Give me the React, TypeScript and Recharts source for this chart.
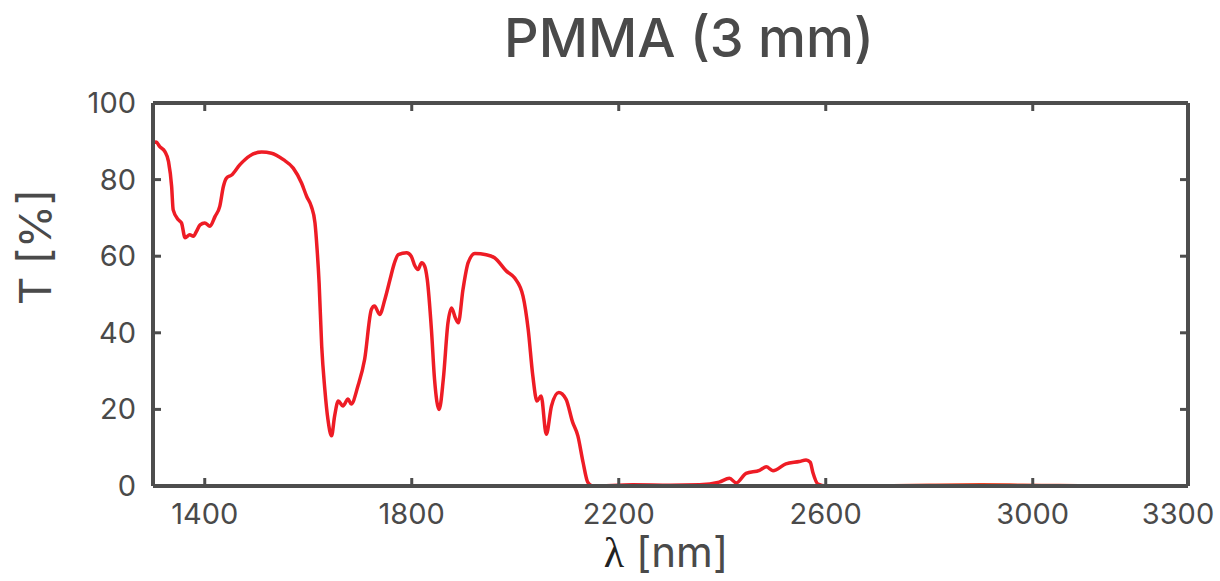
import { LineChart, Line, XAxis, YAxis } from "recharts";

// wavelength in nm, transmission in %
const WAVELENGTH = [
  1300, 1306, 1313, 1323, 1330, 1336, 1339, 1349, 1355, 1362, 1371, 1378, 1384, 1391, 1400, 1410,
  1420, 1429, 1436, 1442, 1452, 1468, 1487, 1510, 1529, 1552, 1571, 1587, 1597, 1606, 1613, 1617,
  1621, 1626, 1632, 1638, 1645, 1651, 1658, 1667, 1677, 1683, 1696, 1709, 1722, 1728, 1738, 1748,
  1758, 1766, 1774, 1790, 1799, 1806, 1812, 1819, 1825, 1830, 1838, 1844, 1853, 1861, 1870, 1877,
  1884, 1890, 1899, 1909, 1922, 1944, 1960, 1983, 1999, 2015, 2025, 2034, 2042, 2050, 2060, 2070,
  2084, 2098, 2111, 2121, 2131, 2140, 2149, 2227, 2300, 2356, 2394, 2414, 2427, 2446, 2472, 2485,
  2498, 2523, 2549, 2562, 2570, 2575, 2585, 2600, 2690,
];
const TRANSMISSION = [
  89.5, 89.8, 88.6, 87.3, 84.7, 78.2, 72.1, 69.5, 68.7, 64.8, 65.6, 65.2, 66.5, 68.2, 68.7, 67.8,
  70.4, 73, 78.2, 80.4, 81.2, 83.9, 86.2, 87.2, 86.9, 85.2, 83, 79.1, 75.6, 73, 68.7, 62,
  53, 36.5, 25.3, 17.4, 13.1, 18.3, 22.2, 20.9, 22.7, 21.4, 26.1, 33.1, 46.1, 47, 44.8, 48.7,
  53.9, 58, 60.4, 60.9, 60, 57.5, 56.5, 58.3, 57.4, 53.9, 40.9, 27.9, 20, 27.9, 42.6, 46.5,
  44, 42.6, 51.3, 58.3, 60.7, 60.4, 59.6, 56.1, 54.3, 49.6, 40.9, 28.7, 22.2, 23.5, 13.5, 20.9,
  24.4, 22.7, 16.6, 13.1, 6.2, 1, 0, 0.3, 0.2, 0.3, 1, 2, 0.8, 3.3, 4.1, 5,
  4, 5.8, 6.4, 6.8, 6.2, 3.6, 0.5, 0, 0,
];
// end of the trace, drawn in a lighter tone
const TAIL_WAVELENGTH = [2690, 2800, 2900, 2980, 3050, 3125];
const TAIL_TRANSMISSION = [0, 0.2, 0.3, 0.2, 0.1, 0];

const X_TICKS = [1400, 1800, 2200, 2600, 3000, 3300];
const Y_TICKS = [0, 20, 40, 60, 80, 100];

const mainData = WAVELENGTH.map((nm, i) => ({ nm, t: TRANSMISSION[i] }));
const tailData = TAIL_WAVELENGTH.map((nm, i) => ({ nm, t: TAIL_TRANSMISSION[i] }));

const AXIS = "#4d4d4d";
const TEXT = "#4a4a4a";
const FONT = "Inter, 'Open Sans', sans-serif";
const TICK_LEN = 8;
const AXIS_W = 4;

const BottomTick = (props: any) => {
  const { x, y, payload } = props;
  return (
    <g>
      {payload.value !== 3300 && (
        <path d={`M${x},${y} L${x},${y - TICK_LEN}`} stroke={AXIS} strokeWidth={3} fill="none" />
      )}
      <text
        x={payload.value === 3300 ? x - 10 : x}
        y={y + 38}
        textAnchor="middle"
        fill={TEXT}
        fontSize={29}
        fontFamily={FONT}
      >
        {payload.value}
      </text>
    </g>
  );
};

const TopTick = (props: any) => {
  const { x, y, payload } = props;
  if (payload.value === 3300) return <g />;
  return <path d={`M${x},${y} L${x},${y + TICK_LEN}`} stroke={AXIS} strokeWidth={3} fill="none" />;
};

const LeftTick = (props: any) => {
  const { x, y, payload } = props;
  return (
    <g>
      {payload.value !== 0 && payload.value !== 100 && (
        <path d={`M${x},${y} L${x + TICK_LEN},${y}`} stroke={AXIS} strokeWidth={3} fill="none" />
      )}
      <text x={x - 17} y={y + 10} textAnchor="end" fill={TEXT} fontSize={29} fontFamily={FONT}>
        {payload.value}
      </text>
    </g>
  );
};

const RightTick = (props: any) => {
  const { x, y, payload } = props;
  if (payload.value === 0 || payload.value === 100) return <g />;
  return <path d={`M${x},${y} L${x - TICK_LEN},${y}`} stroke={AXIS} strokeWidth={3} fill="none" />;
};

export default function App() {
  return (
    <div style={{ position: "absolute", left: 0, top: 0, width: 1220, height: 581, background: "#fff" }}>
      <LineChart width={1220} height={581} margin={{ top: 102, right: 31, bottom: 35, left: 93 }}>
        <XAxis
          dataKey="nm"
          type="number"
          domain={[1300, 3300]}
          ticks={X_TICKS}
          height={60}
          tickSize={0}
          tickMargin={0}
          tickLine={false}
          axisLine={{ stroke: AXIS, strokeWidth: AXIS_W }}
          tick={(p: any) => <BottomTick {...p} />}
          allowDataOverflow
        />
        <XAxis
          xAxisId="top"
          dataKey="nm"
          orientation="top"
          type="number"
          domain={[1300, 3300]}
          ticks={X_TICKS}
          height={1}
          tickSize={0}
          tickMargin={0}
          tickLine={false}
          axisLine={{ stroke: AXIS, strokeWidth: AXIS_W }}
          tick={(p: any) => <TopTick {...p} />}
          allowDataOverflow
        />
        <YAxis
          type="number"
          domain={[0, 100]}
          ticks={Y_TICKS}
          width={60}
          tickSize={0}
          tickMargin={0}
          tickLine={false}
          axisLine={{ stroke: AXIS, strokeWidth: AXIS_W }}
          tick={(p: any) => <LeftTick {...p} />}
          allowDataOverflow
        />
        <YAxis
          yAxisId="right"
          orientation="right"
          type="number"
          domain={[0, 100]}
          ticks={Y_TICKS}
          width={1}
          tickSize={0}
          tickMargin={0}
          tickLine={false}
          axisLine={{ stroke: AXIS, strokeWidth: AXIS_W }}
          tick={(p: any) => <RightTick {...p} />}
          allowDataOverflow
        />
        <Line
          data={mainData}
          dataKey="t"
          stroke="#ee1c25"
          strokeWidth={3.5}
          dot={false}
          type="monotone"
          isAnimationActive={false}
        />
        <Line
          data={tailData}
          xAxisId="top"
          yAxisId="right"
          dataKey="t"
          stroke="#f04422"
          strokeWidth={3.5}
          dot={false}
          type="monotone"
          isAnimationActive={false}
        />
      </LineChart>
      <div
        style={{
          position: "absolute",
          left: 689,
          top: 11,
          transform: "translateX(-50%)",
          fontFamily: FONT,
          fontSize: 54,
          fontWeight: 500,
          color: TEXT,
          whiteSpace: "nowrap",
          lineHeight: 1,
        }}
      >
        PMMA (3 mm)
      </div>
      <div
        style={{
          position: "absolute",
          left: 666,
          top: 531,
          transform: "translateX(-50%)",
          fontFamily: FONT,
          fontSize: 42,
          color: TEXT,
          whiteSpace: "nowrap",
          lineHeight: 1,
        }}
      >
        <span style={{ fontFamily: "'Liberation Serif', serif", color: "#222" }}>λ</span> [nm]
      </div>
      <div
        style={{
          position: "absolute",
          left: 35,
          top: 247,
          transform: "translate(-50%, -50%) rotate(-90deg)",
          fontFamily: FONT,
          fontSize: 44,
          color: TEXT,
          whiteSpace: "nowrap",
          lineHeight: 1,
        }}
      >
        T [%]
      </div>
    </div>
  );
}
